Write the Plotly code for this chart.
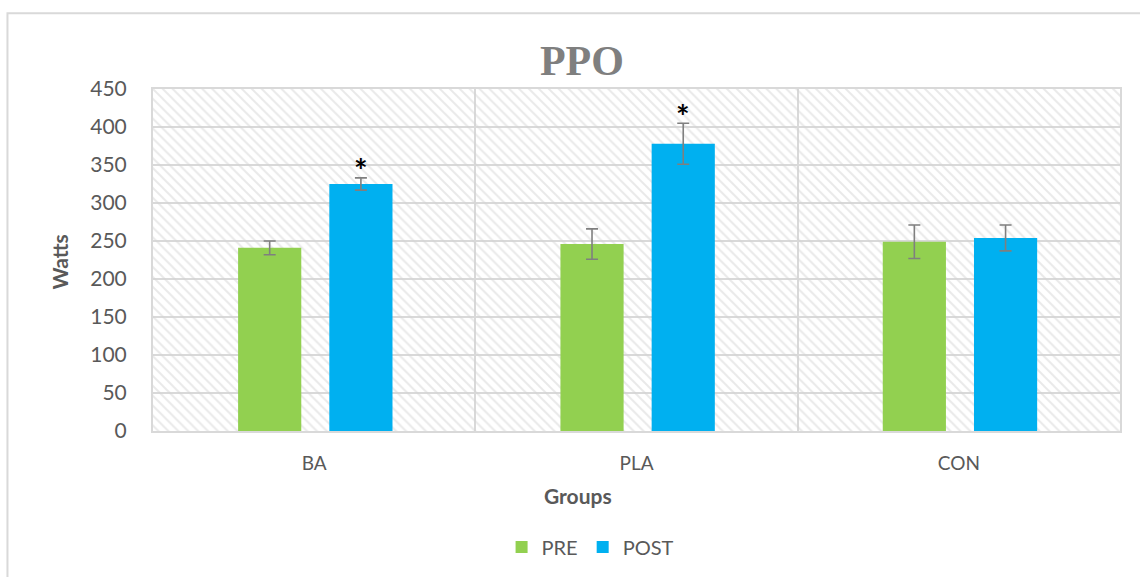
import plotly.graph_objects as go

# Peak power output per group, before and after the intervention
groups = ["BA", "PLA", "CON"]
pre_watts = [241, 246, 249]
pre_err = [9, 20, 22]
post_watts = [325, 378, 254]
post_err = [8, 27, 17]
significant = [True, True, False]
y_ticks = [0, 50, 100, 150, 200, 250, 300, 350, 400, 450]

GREEN = "#92D050"
BLUE = "#00B0F0"
GRID = "#D9D9D9"
TEXT = "#595959"
FONT = "Lato"

BAR_W = 0.196
PRE_OFF = -0.236
POST_OFF = 0.047
Y_MAX = y_ticks[-1]

fig = go.Figure()

# hatched plot-area background
fig.add_trace(go.Bar(
    x=groups, y=[Y_MAX] * len(groups), width=1.0, offset=-0.5,
    marker=dict(color="rgba(0,0,0,0)", line=dict(width=0),
                pattern=dict(shape="\\", fgcolor="#D3D3D3", size=7, solidity=0.28,
                             fillmode="overlay")),
    showlegend=False, hoverinfo="skip",
))

fig.add_trace(go.Bar(
    name="PRE", x=groups, y=pre_watts, width=BAR_W, offset=PRE_OFF,
    marker=dict(color=GREEN, line=dict(width=0)),
    error_y=dict(type="data", array=pre_err, color="#7F7F7F", thickness=1.6, width=6),
))
fig.add_trace(go.Bar(
    name="POST", x=groups, y=post_watts, width=BAR_W, offset=POST_OFF,
    marker=dict(color=BLUE, line=dict(width=0)),
    error_y=dict(type="data", array=post_err, color="#7F7F7F", thickness=1.6, width=6),
))

# significance markers above POST bars
for i, (v, e, sig) in enumerate(zip(post_watts, post_err, significant)):
    if sig:
        fig.add_annotation(
            x=i + POST_OFF + BAR_W / 2, y=v + e, xref="x", yref="y",
            text="<b>*</b>", showarrow=False, xanchor="center", yanchor="middle",
            yshift=7, font=dict(family=FONT, size=32, color="#000000"),
        )

# axis titles
fig.add_annotation(x=-0.0962, y=0.4956, xref="paper", yref="paper", text="<b>Watts</b>",
                   textangle=-90, showarrow=False, xanchor="center", yanchor="middle",
                   font=dict(family=FONT, size=21, color=TEXT))
fig.add_annotation(x=0.4395, y=-0.1895, xref="paper", yref="paper", text="<b>Groups</b>",
                   showarrow=False, xanchor="center", yanchor="middle",
                   font=dict(family=FONT, size=21, color=TEXT))

# outer chart frame
fig.add_shape(type="rect", xref="paper", yref="paper",
              x0=-0.1505, y0=-0.45, x1=1.03, y1=1.2216,
              line=dict(color=GRID, width=2), fillcolor="rgba(0,0,0,0)", layer="below")

fig.update_layout(
    width=1140, height=577,
    margin=dict(l=153, r=20, t=89, b=145),
    paper_bgcolor="white", plot_bgcolor="white",
    barmode="overlay",
    title=dict(text="<b>PPO</b>", x=0.5105, xref="container", xanchor="center",
               y=0.896, yref="container", yanchor="middle",
               font=dict(family="Liberation Serif", size=42, color="#7F7F7F")),
    xaxis=dict(type="category", range=[-0.5, 2.5], tickson="boundaries",
               showgrid=True, gridcolor=GRID, gridwidth=2, ticks="",
               showline=True, linecolor=GRID, linewidth=2, mirror=True,
               tickfont=dict(family=FONT, size=19, color=TEXT), ticklabelstandoff=14,
               zeroline=False),
    yaxis=dict(range=[0, Y_MAX], tickvals=y_ticks, showgrid=True, gridcolor=GRID,
               gridwidth=2, ticks="", showline=True, linecolor=GRID, linewidth=2,
               mirror=True, zeroline=False,
               tickfont=dict(family=FONT, size=21, color=TEXT), ticklabelstandoff=20),
    legend=dict(orientation="h", x=0.452, y=-0.335, xanchor="center", yanchor="middle",
                font=dict(family=FONT, size=20, color=TEXT), itemsizing="constant"),
    showlegend=True,
)

fig.write_html("out.html")
